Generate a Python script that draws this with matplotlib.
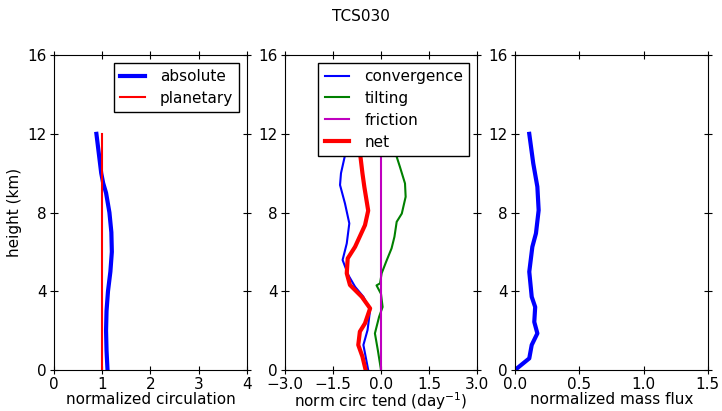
import numpy as np
import matplotlib
matplotlib.use('Agg')
import matplotlib.pyplot as plt

# vertical profiles (height in km)
z_abs = [0, 1, 2, 3, 4, 5, 6, 7, 8, 9, 9.5, 10, 11, 12]
absolute = [1.11, 1.09, 1.08, 1.09, 1.12, 1.17, 1.20, 1.19, 1.15, 1.08, 1.02, 0.98, 0.93, 0.88]
z_plan = [0, 12]
planetary = [1.0, 1.0]

z_conv = [0, 0.68, 1.27, 2.03, 3.05, 3.72, 4.23, 4.82, 5.59, 6.43, 7.45, 8.46, 9.4, 10.0, 11.09, 12]
convergence = [-0.40, -0.48, -0.55, -0.42, -0.34, -0.55, -0.81, -1.02, -1.20, -1.07, -0.99,
               -1.125, -1.28, -1.25, -1.10, -1.0]
z_tilt = [0, 1.02, 1.86, 2.7, 3.2, 3.87, 4.3, 4.4, 4.91, 5.5, 6.18, 6.77, 7.53, 7.95, 8.8,
          9.48, 10.33, 11.09, 12]
tilting = [0.0, -0.1, -0.19, -0.06, 0.05, 0.0, -0.14, -0.03, 0.02, 0.16, 0.33, 0.42, 0.49,
           0.65, 0.77, 0.75, 0.59, 0.44, 0.3]
z_fric = [0, 12]
friction = [0.0, 0.0]
z_net = [0, 0.68, 1.27, 1.95, 2.37, 3.13, 3.72, 4.32, 4.91, 5.67, 6.26, 7.36, 8.1, 9.3,
         10.0, 11.09, 12]
net = [-0.48, -0.58, -0.71, -0.66, -0.5, -0.34, -0.60, -0.97, -1.07, -1.04, -0.81, -0.5,
       -0.40, -0.52, -0.58, -0.66, -0.7]

z_mf = [0, 0.59, 1.27, 1.86, 2.44, 3.2, 3.72, 4.99, 6.26, 6.94, 8.12, 9.31, 10.5, 12]
massflux = [0.0, 0.111, 0.13, 0.174, 0.15, 0.157, 0.13, 0.111, 0.135, 0.163, 0.184, 0.174,
            0.142, 0.111]

plt.rcParams['font.size'] = 11

fig = plt.figure(figsize=(7.22, 4.11), dpi=100)
fig.suptitle('TCS030', fontsize=11, y=0.978)

ax1 = fig.add_axes([0.0748, 0.0998, 0.267, 0.766])
ax2 = fig.add_axes([0.3947, 0.0998, 0.266, 0.766])
ax3 = fig.add_axes([0.7133, 0.0998, 0.267, 0.766])

ax1.plot(absolute, z_abs, color='b', lw=3, label='absolute')
ax1.plot(planetary, z_plan, color='r', lw=1.5, label='planetary')
ax1.set_xlim(0, 4)
ax1.set_xticks([0, 1, 2, 3, 4])
ax1.set_xlabel('normalized circulation')
ax1.set_ylabel('height (km)')

ax2.plot(convergence, z_conv, color='b', lw=1.5, label='convergence')
ax2.plot(tilting, z_tilt, color='g', lw=1.5, label='tilting')
ax2.plot(friction, z_fric, color='m', lw=1.5, label='friction')
ax2.plot(net, z_net, color='r', lw=3, label='net')
ax2.set_xlim(-3, 3)
ax2.set_xticks([-3.0, -1.5, 0.0, 1.5, 3.0])
ax2.set_xticklabels(['\u22123.0', '\u22121.5', '0.0', '1.5', '3.0'])

ax3.plot(massflux, z_mf, color='b', lw=3)
ax3.set_xlim(0, 1.5)
ax3.set_xticks([0.0, 0.5, 1.0, 1.5])
ax3.set_xticklabels(['0.0', '0.5', '1.0', '1.5'])
ax3.set_xlabel('normalized mass flux')

for ax in (ax1, ax2, ax3):
    ax.set_ylim(0, 16)
    ax.set_yticks([0, 4, 8, 12, 16])
    ax.tick_params(direction='inout', length=6, top=True, right=True, labelsize=11, pad=2)
    ax.xaxis.labelpad = 0

ax2.set_xlabel('norm circ tend (day$^{-1}$)', labelpad=-1)

for ax in (ax1, ax2):
    leg = ax.legend(loc='upper right', fancybox=False, framealpha=1, edgecolor='k',
                    borderaxespad=0.5, handlelength=1.6, handletextpad=1.0,
                    labelspacing=0.45, borderpad=0.4, fontsize=11)
    leg.get_frame().set_linewidth(1.0)

fig.savefig('out.png', dpi=100)
